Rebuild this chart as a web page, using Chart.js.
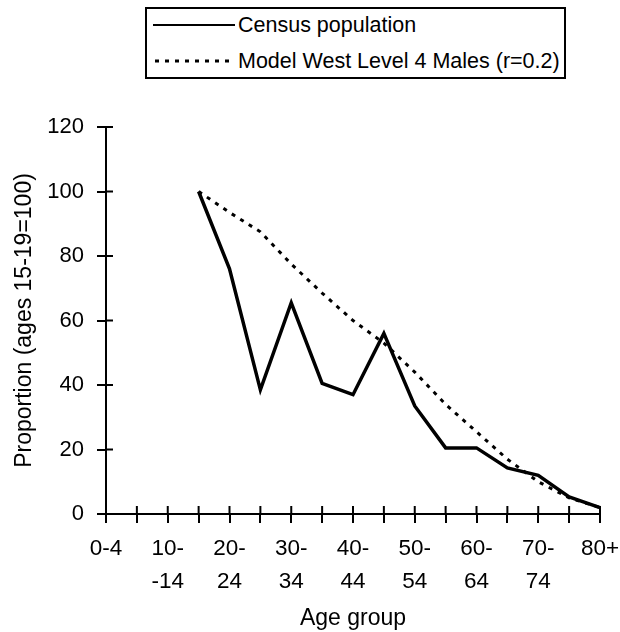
<!DOCTYPE html>
<html>
<head>
<meta charset="utf-8">
<script src="https://cdn.jsdelivr.net/npm/chart.js@4"></script>
<style>
  html, body { margin: 0; padding: 0; background: #fff; }
  #wrap { position: relative; width: 620px; height: 632px; }
  #legend {
    position: absolute; left: 145px; top: 7px; width: 417px; height: 68px;
    border: 2px solid #000; font-family: 'Liberation Sans', Arial, sans-serif;
    font-size: 21.5px; color: #000; background: #fff;
  }
  .row { position: absolute; left: 6px; height: 24px; display: flex; align-items: center; }
  .row svg { margin-right: 3px; }
</style>
</head>
<body>
<div id="wrap">
  <canvas id="chart" width="620" height="632"></canvas>
  <div id="legend">
    <div class="row" style="top: 4px;">
      <svg width="82" height="6"><line x1="0" y1="3" x2="82" y2="3" stroke="#000" stroke-width="2"/></svg>
      <span>Census population</span>
    </div>
    <div class="row" style="top: 40px;">
      <svg width="82" height="6"><line x1="2" y1="3" x2="82" y2="3" stroke="#000" stroke-width="3" stroke-dasharray="4 6"/></svg>
      <span>Model West Level 4 Males (r=0.2)</span>
    </div>
  </div>
</div>
<script>
document.addEventListener('DOMContentLoaded', function() {
  /* data */
  var age_groups = ['0-4', '5-9', '10-14', '15-19', '20-24', '25-29', '30-34', '35-39', '40-44',
                    '45-49', '50-54', '55-59', '60-64', '65-69', '70-74', '75-79', '80+'];
  var tick_labels = ['0-4', '', ['10-', '-14'], '', ['20-', '24'], '', ['30-', '34'], '', ['40-', '44'],
                     '', ['50-', '54'], '', ['60-', '64'], '', ['70-', '74'], '', '80+'];
  var census = [null, null, null, 100, 76, 38.5, 65.5, 40.5, 37, 56, 33.5, 20.5, 20.5, 14.3, 12, 5.3, 2];
  var model_west = [null, null, null, 100, 93.5, 87.5, 77.5, 68.5, 60, 53, 44, 34, 25.5, 17, 10, 5, 2];
  var y_ticks = [0, 20, 40, 60, 80, 100, 120];

  var font_family = "'Liberation Sans', Arial, sans-serif";

  /* tick marks that cross the axis: inner half */
  var innerTicks = {
    id: 'innerTicks',
    beforeDatasetsDraw: function(chart) {
      let ctx = chart.ctx;
      let xs = chart.scales.x;
      let ys = chart.scales.y;
      let area = chart.chartArea;
      ctx.save();
      ctx.strokeStyle = '#000';
      ctx.lineWidth = 2;
      ctx.beginPath();
      for (let i = 0; i < xs.ticks.length; i++) {
        let px = xs.getPixelForTick(i);
        ctx.moveTo(px, area.bottom);
        ctx.lineTo(px, area.bottom - 8);
      }
      for (let i = 0; i < ys.ticks.length; i++) {
        let py = ys.getPixelForTick(i);
        ctx.moveTo(area.left, py);
        ctx.lineTo(area.left + 7, py);
      }
      ctx.stroke();
      ctx.restore();
    }
  };

  new Chart(document.getElementById('chart').getContext('2d'), {
    type: 'line',
    data: {
      labels: age_groups,
      datasets: [{
        label: 'Census population',
        data: census,
        borderColor: '#000',
        borderWidth: 3.5,
        pointRadius: 0,
        tension: 0,
        fill: false
      }, {
        label: 'Model West Level 4 Males (r=0.2)',
        data: model_west,
        borderColor: '#000',
        borderWidth: 3,
        borderDash: [4, 6],
        pointRadius: 0,
        tension: 0,
        fill: false
      }]
    },
    plugins: [innerTicks],
    options: {
      responsive: false,
      animation: false,
      layout: { padding: { top: 127, right: 0, left: 0, bottom: 0 } },
      plugins: { legend: { display: false }, tooltip: { enabled: false } },
      scales: {
        x: {
          offset: false,
          afterFit: function(scale) {
            scale.height = 118;
            scale.paddingLeft = 0;
            scale.paddingRight = 20;
          },
          border: { color: '#000', width: 2 },
          grid: { drawOnChartArea: false, color: '#000', lineWidth: 2, tickLength: 9 },
          ticks: {
            autoSkip: false, maxRotation: 0, color: '#000', padding: 9,
            font: { family: font_family, size: 22.5, lineHeight: 1.47 },
            callback: function(value, index) { return tick_labels[index]; }
          },
          title: {
            display: true, text: 'Age group', color: '#000',
            font: { family: font_family, size: 23 }, padding: { top: 0, bottom: 0 }
          }
        },
        y: {
          min: 0, max: 120,
          afterFit: function(scale) { scale.width = 106; },
          afterBuildTicks: function(scale) { scale.ticks = y_ticks.map(v => ({ value: v })); },
          border: { color: '#000', width: 2 },
          grid: { drawOnChartArea: false, color: '#000', lineWidth: 2, tickLength: 9 },
          ticks: { color: '#000', padding: 13, font: { family: font_family, size: 22 } },
          title: {
            display: true, text: 'Proportion (ages 15-19=100)', color: '#000',
            font: { family: font_family, size: 23 }, padding: { top: 11, bottom: 0 }
          }
        }
      }
    }
  });
});
</script>
</body>
</html>
